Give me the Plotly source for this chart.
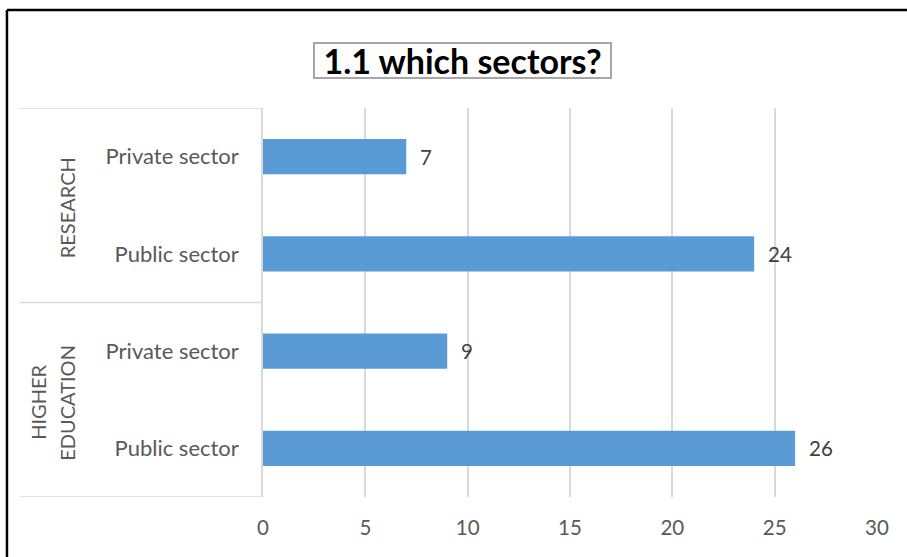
import plotly.graph_objects as go

# Survey answers: how many respondents per sector
groups = ["HIGHER EDUCATION", "HIGHER EDUCATION", "RESEARCH", "RESEARCH"]
sectors = ["Public sector", "Private sector", "Public sector", "Private sector"]
counts = [26, 9, 24, 7]
x_ticks = [0, 5, 10, 15, 20, 25, 30]

FONT = "Lato"
BAR = "#5B9BD5"
GRID = "#D9D9D9"
TICK = "#595959"

pos = list(range(len(sectors)))

fig = go.Figure()
fig.add_trace(go.Bar(
    x=counts, y=pos, orientation="h", width=0.36,
    marker=dict(color=BAR, line=dict(width=0)),
    hoverinfo="skip", showlegend=False,
))

# value labels to the right of each bar
for yi, v in zip(pos, counts):
    fig.add_annotation(x=v, y=yi, xref="x", yref="y", text=str(v),
                       showarrow=False, xanchor="left", xshift=12,
                       font=dict(family=FONT, size=20.5, color="#404040"))

# group labels on the category axis
group_names = []
for g in groups:
    if g not in group_names:
        group_names.append(g)
for g in group_names:
    idx = [i for i, gg in enumerate(groups) if gg == g]
    yc = sum(idx) / len(idx)
    words = g.split(" ")
    if len(words) == 1:
        fig.add_annotation(x=(67 - 263) / 614, y=yc, xref="paper", yref="y",
                           text=g, textangle=-90, showarrow=False,
                           xanchor="center", yanchor="middle", yshift=-3,
                           font=dict(family=FONT, size=20, color=TICK))
    else:
        for k, w in enumerate(words):
            fig.add_annotation(x=(38 + 29 * k - 263) / 614, y=yc,
                               xref="paper", yref="y", text=w,
                               textangle=-90, showarrow=False,
                               xanchor="center", yanchor="middle", yshift=-3,
                               font=dict(family=FONT, size=20, color=TICK))

# separators between groups in the label area
bounds = [-0.5]
for i in range(1, len(groups)):
    if groups[i] != groups[i - 1]:
        bounds.append(i - 0.5)
bounds.append(len(groups) - 0.5)
for b in bounds:
    fig.add_shape(type="line", xref="paper", yref="y", x0=-0.396, x1=0,
                  y0=b, y1=b, line=dict(color=GRID, width=1.5))

# chart frame (left and top edges)
fig.add_shape(type="line", xref="paper", yref="paper", x0=-0.417, x1=-0.417,
              y0=1.252, y1=-0.2, line=dict(color="black", width=2.5))
fig.add_shape(type="line", xref="paper", yref="paper", x0=-0.417, x1=1.1,
              y0=1.252, y1=1.252, line=dict(color="black", width=2.5))

# boxed title
fig.add_annotation(x=(462.5 - 263) / 614, y=1 + (108 - 60.5) / 389,
                   xref="paper", yref="paper",
                   text="<b>1.1 which sectors?</b>", showarrow=False,
                   xanchor="center", yanchor="middle",
                   width=295, height=33, align="center", valign="middle",
                   bordercolor="#A6A6A6", borderwidth=2, borderpad=0,
                   bgcolor="white",
                   font=dict(family=FONT, size=34, color="black"))

fig.update_layout(
    width=907, height=557,
    margin=dict(l=263, r=30, t=108, b=60),
    paper_bgcolor="white", plot_bgcolor="white",
    font=dict(family=FONT, color=TICK),
    xaxis=dict(range=[0, 30], tickvals=x_ticks, showgrid=True,
               gridcolor=GRID, gridwidth=1.5, zeroline=False,
               showline=False, ticks="", ticklabelstandoff=16,
               tickfont=dict(family=FONT, size=20.5, color=TICK),
               fixedrange=True),
    yaxis=dict(range=[-0.5, len(sectors) - 0.5], tickvals=pos,
               ticktext=sectors, showgrid=False, zeroline=False,
               showline=True, linecolor=GRID, linewidth=1.5,
               ticks="", ticklabelstandoff=18,
               tickfont=dict(family=FONT, size=22, color=TICK),
               fixedrange=True),
)

fig.write_html("out.html")
